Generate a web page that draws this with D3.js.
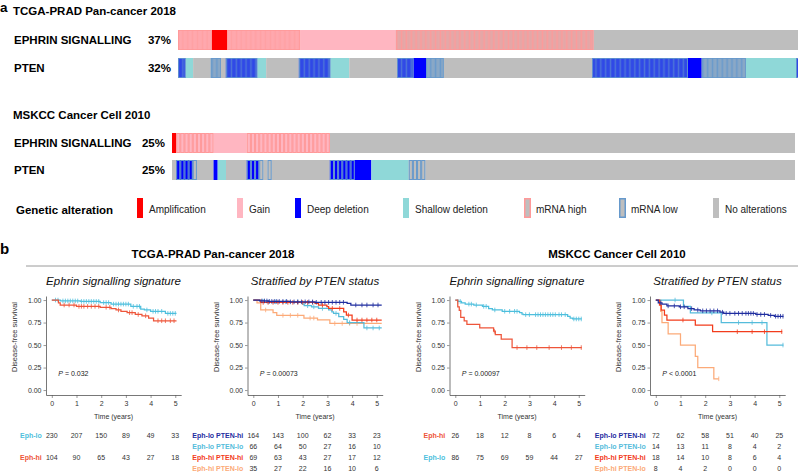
<!DOCTYPE html>
<html><head><meta charset="utf-8">
<script src="https://cdn.jsdelivr.net/npm/d3@7"></script>
<style>
body{margin:0;background:#fff}
svg{display:block;font-family:"Liberation Sans",Arial,Helvetica,sans-serif}
</style>
</head><body>
<svg id="c" width="798" height="472"></svg>
<script>
// ================= DATA =================
// Panel a: oncoprint tracks, segments of consecutive samples: [base alteration, mRNA flag, sample count]
const tcgaTitle = "TCGA-PRAD Pan-cancer 2018";
const mskccTitle = "MSKCC Cancer Cell 2010";
const geneLabels = ["EPHRIN SIGNALLING", "PTEN"];
const tcgaPct = ["37%", "32%"];
const mskccPct = ["25%", "25%"];
const tcgaSamples = 494;
const mskccSamples = 150;
const tcgaEphrin = [["gain","hi",27],["amp",null,12],["gain","hi",58],["gain",null,76],["none","hi",157],["none",null,164]];
const tcgaPten = [["deep","lo",6],["shallow",null,6],["none",null,14],["none","lo",8],["none",null,4],["deep","lo",25],["shallow",null,7],["none",null,26],["deep","lo",25],["shallow",null,15],["none",null,38],["deep","lo",13],["deep",null,10],["none","lo",14],["none",null,118],["deep","lo",76],["deep",null,11],["none","lo",35],["shallow",null,40],["deep","lo",3]];
const mskccEphrin = [["amp",null,1],["gain","hi",9],["gain",null,8],["gain","hi",20],["none",null,112]];
const mskccPten = [["none",null,1],["deep","lo",4],["none","lo",1],["none",null,4],["deep",null,1],["shallow",null,2],["none",null,5],["deep","lo",3],["none","lo",1],["none",null,1],["none","lo",1],["none",null,14],["deep","lo",6],["deep",null,4],["shallow",null,9],["none","lo",4],["none",null,89]];
const legendTitle = "Genetic alteration";
const legendLabels = ["Amplification","Gain","Deep deletion","Shallow deletion","mRNA high","mRNA low","No alterations"];
const legendKeys = [["amp",null],["gain",null],["deep",null],["shallow",null],["none","hi"],["none","lo"],["none",null]];

// Panel b: Kaplan-Meier curves [time (years), survival]
const timeTicks = [0,1,2,3,4,5];
const survTicks = [0,0.25,0.5,0.75,1];
// TCGA – Ephrin signalling signature
const t1LoSurv = [[0,1],[0.35,0.99],[1.15,0.985],[1.96,0.972],[2.4,0.955],[3.2,0.93],[3.6,0.9],[3.75,0.89],[4.0,0.875],[4.6,0.852]];
const t1LoCens = [0.15,0.25,0.45,0.55,0.65,0.75,0.85,0.95,1.05,1.2,1.3,1.4,1.5,1.6,1.7,1.8,1.9,2.1,2.2,2.3,2.5,2.6,2.7,2.8,2.9,3.0,3.1,3.3,3.45,3.55,3.85,4.1,4.2,4.3,4.45,4.7,4.8,4.9,5.0];
const t1HiSurv = [[0,1],[0.27,0.97],[0.34,0.945],[1.0,0.93],[1.96,0.92],[2.4,0.905],[2.6,0.89],[2.8,0.875],[3.05,0.86],[3.38,0.84],[3.65,0.825],[3.92,0.8],[4.12,0.77]];
const t1HiCens = [0.5,0.7,0.9,1.1,1.2,1.3,1.45,1.6,1.75,1.9,2.2,2.35,2.7,3.15,3.25,3.5,3.8,4.3,4.45,4.6,4.8,4.95];
// TCGA – stratified by PTEN
const t2LoHiSurv = [[0,1],[0.25,0.99],[0.6,0.985],[1.5,0.98],[2.5,0.975],[3.8,0.963],[3.95,0.945]];
const t2LoHiCens = [0.35,0.45,0.55,0.65,0.75,0.85,0.95,1.05,1.2,1.35,1.5,1.65,1.8,1.95,2.1,2.25,2.4,2.55,2.75,2.9,3.05,3.2,3.35,3.5,3.65,4.15,4.4,4.6,4.85,5.05];
const t2LoLoSurv = [[0,1],[0.45,0.98],[2.0,0.956],[2.06,0.937],[2.36,0.925],[2.64,0.907],[3.05,0.89],[3.18,0.87],[3.25,0.852],[3.46,0.815],[3.66,0.785],[3.8,0.75],[4.48,0.69]];
const t2LoLoCens = [0.6,0.9,1.3,1.8,2.2,2.45,2.8,3.35,3.9,4.6,4.85,5.1];
const t2HiHiSurv = [[0,1],[0.3,0.974],[2.5,0.963],[2.64,0.944],[2.98,0.926],[3.05,0.907],[3.66,0.87],[3.77,0.833],[4.0,0.778]];
const t2HiHiCens = [0.4,0.6,0.8,1.0,1.2,1.4,1.6,1.8,2.0,2.2,2.4,2.8,3.2,3.5,3.85,4.2,4.4,4.6,4.8,5.0];
const t2HiLoSurv = [[0,1],[0.15,0.97],[0.3,0.89],[0.8,0.86],[0.95,0.83],[2.05,0.8],[2.6,0.78],[3.1,0.74]];
const t2HiLoCens = [0.5,1.2,1.5,1.8,2.3,2.45,3.3,3.6,3.9,4.2];
// MSKCC – Ephrin signalling signature
const m1HiSurv = [[0,1],[0.1,0.923],[0.16,0.885],[0.22,0.808],[0.36,0.769],[0.47,0.731],[0.99,0.692],[1.55,0.654],[1.62,0.615],[1.86,0.567],[2.3,0.472]];
const m1HiCens = [1.58,2.5,2.9,3.3,3.8,4.3,4.7,5.1];
const m1LoSurv = [[0,1],[0.1,0.985],[0.25,0.97],[0.4,0.955],[0.75,0.945],[1.1,0.93],[1.35,0.905],[1.5,0.89],[1.9,0.875],[2.6,0.86],[2.7,0.845],[2.75,0.838],[4.55,0.82],[4.65,0.8],[4.75,0.79]];
const m1LoCens = [0.1,0.2,0.55,0.65,0.85,1.15,1.25,1.6,2.0,2.2,2.4,2.5,2.85,3.0,3.25,3.35,3.45,3.55,3.65,3.75,3.85,3.95,4.05,4.2,4.3,4.45,4.8,4.9,5.0,5.1];
// MSKCC – stratified by PTEN
const m2LoHiSurv = [[0,1],[0.1,0.97],[0.25,0.955],[0.45,0.935],[0.95,0.925],[1.3,0.905],[1.55,0.89],[1.8,0.88],[2.6,0.865],[2.75,0.852],[4.05,0.84],[4.55,0.83],[4.8,0.82]];
const m2LoHiCens = [0.2,0.5,0.75,1.0,1.15,1.45,1.7,1.9,2.05,2.2,2.35,2.5,2.7,2.85,3.0,3.2,3.35,3.5,3.65,3.75,3.85,3.95,4.1,4.25,4.4,4.65,4.85,4.95,5.05,5.15];
const m2LoLoSurv = [[0,1],[1.12,0.929],[1.4,0.857],[2.65,0.75],[4.5,0.5]];
const m2LoLoCens = [0.78,2.27,3.35,3.9,4.3,5.15];
const m2HiHiSurv = [[0,1],[0.15,0.944],[0.22,0.889],[0.35,0.833],[0.45,0.778],[1.6,0.722],[2.3,0.648]];
const m2HiHiCens = [1.1,3.3,3.9,4.4,5.1];
const m2HiLoSurv = [[0,1],[0.2,0.875],[0.25,0.75],[0.5,0.625],[1.0,0.5],[1.6,0.375],[1.7,0.25],[2.35,0.125]];
const m2HiLoCens = [2.55];

// Numbers at risk
const t1LoRisk = [230,207,150,89,49,33];
const t1HiRisk = [104,90,65,43,27,18];
const t2LoHiRisk = [164,143,100,62,33,23];
const t2LoLoRisk = [66,64,50,27,16,10];
const t2HiHiRisk = [69,63,43,27,17,12];
const t2HiLoRisk = [35,27,22,16,10,6];
const m1HiRisk = [26,18,12,8,6,4];
const m1LoRisk = [86,75,69,59,44,27];
const m2LoHiRisk = [72,62,58,51,40,25];
const m2LoLoRisk = [14,13,11,8,4,2];
const m2HiHiRisk = [18,14,10,8,6,4];
const m2HiLoRisk = [8,4,2,0,0,0];

const pValues = ["0.032","0.00073","0.00097","0.0001"];
const pOps = ["=","=","=","<"];

// ================= DRAW =================
const svg = d3.select("#c");
const fillColor = {amp:"#FF0000", gain:"#FFB6C1", deep:"#0000FF", shallow:"#8FD8D8", none:"#BEBEBE"};
const mrnaColor = {hi:"#FF9999", lo:"#6699CC"};

// panel letters
svg.append("text").attr("x",0).attr("y",12).attr("font-size",13.5).attr("font-weight","bold").text("a");
svg.append("text").attr("x",0).attr("y",254).attr("font-size",15).attr("font-weight","bold").text("b");

function drawTrack(segs, n, x0, x1, y, h) {
  const xs = d3.scaleLinear().domain([0, n]).range([x0, x1]);
  const cw = xs(1) - xs(0);
  const g = svg.append("g");
  let i0 = 0;
  const cells = segs.map(([base, mrna, k]) => { const c = {base, mrna, start:i0, n:k}; i0 += k; return c; });
  g.selectAll("rect.base").data(cells).join("rect").attr("class","base")
    .attr("x", d => xs(d.start)).attr("width", d => xs(d.start + d.n) - xs(d.start))
    .attr("y", y).attr("height", h).attr("fill", d => fillColor[d.base]);
  const pts = [];
  cells.forEach(c => { if (c.mrna) for (let k = 0; k < c.n; k++) pts.push({i:c.start + k, m:c.mrna, b:c.base}); });
  if (cw > 2) {
    g.selectAll("rect.o").data(pts).join("rect").attr("class","o")
      .attr("x", d => xs(d.i) + 0.5).attr("width", cw - 1)
      .attr("y", y + 0.5).attr("height", h - 1)
      .attr("fill","none").attr("stroke", d => mrnaColor[d.m]).attr("stroke-width", 1);
  } else {
    g.selectAll("line.o").data(pts).join("line").attr("class","o")
      .attr("x1", d => xs(d.i) + cw/2).attr("x2", d => xs(d.i) + cw/2)
      .attr("y1", y).attr("y2", y + h)
      .attr("stroke", d => mrnaColor[d.m]).attr("stroke-width", d => d.b === "none" ? 0.95 : 0.75);
    const mc = cells.filter(c => c.mrna);
    g.selectAll("rect.so").data(mc).join("rect").attr("class","so")
      .attr("x", d => xs(d.start) + 0.4).attr("width", d => xs(d.start + d.n) - xs(d.start) - 0.8)
      .attr("y", y + 0.4).attr("height", h - 0.8)
      .attr("fill","none").attr("stroke", d => mrnaColor[d.mrna]).attr("stroke-width", 0.8);
  }
}

function studyBlock(title, titleY, pcts, tracks, n, x0, x1, ys, pctX) {
  svg.append("text").attr("x",13).attr("y",titleY).attr("font-size",11.5).attr("font-weight","bold").text(title);
  geneLabels.forEach((lab, i) => {
    svg.append("text").attr("x",14).attr("y",ys[i] + 14).attr("font-size",11.5).attr("font-weight","bold").text(lab);
    svg.append("text").attr("x",pctX).attr("y",ys[i] + 14).attr("text-anchor","end").attr("font-size",11.5).attr("font-weight","bold").text(pcts[i]);
    drawTrack(tracks[i], n, x0, x1, ys[i], 20);
  });
}
studyBlock(tcgaTitle, 15, tcgaPct, [tcgaEphrin, tcgaPten], tcgaSamples, 178, 800, [30, 58], 171);
studyBlock(mskccTitle, 119, mskccPct, [mskccEphrin, mskccPten], mskccSamples, 172, 795, [133, 160], 165);

// legend
svg.append("text").attr("x",16).attr("y",214).attr("font-size",11.5).attr("font-weight","bold").text(legendTitle);
const legendX = [137, 237, 295, 403, 524, 619, 713];
legendLabels.forEach((lab, i) => {
  const [b, m] = legendKeys[i];
  const r = svg.append("rect").attr("x", legendX[i]).attr("y", 198).attr("width", 6).attr("height", 20).attr("fill", fillColor[b]);
  if (m) r.attr("x", legendX[i] + 0.75).attr("y", 198.75).attr("height", 18.5).attr("width", 5.5).attr("stroke", mrnaColor[m]).attr("stroke-width", 1.5);
  svg.append("text").attr("x", legendX[i] + 12).attr("y", 213).attr("font-size", 10).attr("fill","#222").text(lab);
});

// ---------- panel b ----------
svg.append("text").attr("x",213).attr("y",258).attr("text-anchor","middle").attr("font-size",11.5).attr("font-weight","bold").text(tcgaTitle);
svg.append("text").attr("x",617).attr("y",258).attr("text-anchor","middle").attr("font-size",11.5).attr("font-weight","bold").text(mskccTitle);
svg.append("line").attr("x1",26).attr("x2",798).attr("y1",266).attr("y2",266).attr("stroke","#9a9a9a").attr("stroke-width",1);

const cLo = "#4EBFDD", cHi = "#EE553A";
const cLoHi = "#1F2D9F", cLoLo = "#55BCDB", cHiHi = "#F23C1C", cHiLo = "#FCAA78";

const panels = [
  {ox:46, sub:"Ephrin signalling signature",
   curves:[{s:t1LoSurv,c:t1LoCens,end:5.05,col:cLo},{s:t1HiSurv,c:t1HiCens,end:5.05,col:cHi}],
   risk:[{lab:"Eph-lo",col:cLo,v:t1LoRisk,row:0},{lab:"Eph-hi",col:cHi,v:t1HiRisk,row:2}]},
  {ox:247.5, sub:"Stratified by PTEN status",
   curves:[{s:t2HiLoSurv,c:t2HiLoCens,end:5.2,col:cHiLo},{s:t2LoLoSurv,c:t2LoLoCens,end:5.2,col:cLoLo},{s:t2HiHiSurv,c:t2HiHiCens,end:5.2,col:cHiHi},{s:t2LoHiSurv,c:t2LoHiCens,end:5.2,col:cLoHi}],
   risk:[{lab:"Eph-lo PTEN-hi",col:cLoHi,v:t2LoHiRisk,row:0},{lab:"Eph-lo PTEN-lo",col:cLoLo,v:t2LoLoRisk,row:1},{lab:"Eph-hi PTEN-hi",col:cHiHi,v:t2HiHiRisk,row:2},{lab:"Eph-hi PTEN-lo",col:cHiLo,v:t2HiLoRisk,row:3}]},
  {ox:449.5, sub:"Ephrin signalling signature",
   curves:[{s:m1LoSurv,c:m1LoCens,end:5.12,col:cLo},{s:m1HiSurv,c:m1HiCens,end:5.12,col:cHi}],
   risk:[{lab:"Eph-hi",col:cHi,v:m1HiRisk,row:0},{lab:"Eph-lo",col:cLo,v:m1LoRisk,row:2}]},
  {ox:650, sub:"Stratified by PTEN status",
   curves:[{s:m2HiLoSurv,c:m2HiLoCens,end:2.55,col:cHiLo},{s:m2LoLoSurv,c:m2LoLoCens,end:5.17,col:cLoLo},{s:m2HiHiSurv,c:m2HiHiCens,end:5.12,col:cHiHi},{s:m2LoHiSurv,c:m2LoHiCens,end:5.17,col:cLoHi}],
   risk:[{lab:"Eph-lo PTEN-hi",col:cLoHi,v:m2LoHiRisk,row:0},{lab:"Eph-lo PTEN-lo",col:cLoLo,v:m2LoLoRisk,row:1},{lab:"Eph-hi PTEN-hi",col:cHiHi,v:m2HiHiRisk,row:2},{lab:"Eph-hi PTEN-lo",col:cHiLo,v:m2HiLoRisk,row:3}]}
];

function stepAt(pts, t) { let s = pts[0][1]; for (const p of pts) if (p[0] <= t) s = p[1]; return s; }

panels.forEach((P, pi) => {
  const xs = d3.scaleLinear().domain([-0.235, 5.24]).range([P.ox, P.ox + 135.2]);
  const ys = d3.scaleLinear().domain([-0.055, 1.045]).range([395, 296]);
  const g = svg.append("g");
  const cx = xs(2.5);
  g.append("text").attr("x", cx).attr("y", 285).attr("text-anchor","middle").attr("font-size",11.5).attr("font-style","italic").attr("fill","#111").text(P.sub);

  const xa = g.append("g").attr("transform", `translate(0,395)`)
    .call(d3.axisBottom(xs).tickValues(timeTicks).tickSize(3).tickSizeOuter(0).tickPadding(3).tickFormat(d3.format("d")));
  const ya = g.append("g").attr("transform", `translate(${P.ox},0)`)
    .call(d3.axisLeft(ys).tickValues(survTicks).tickSize(2.5).tickSizeOuter(0).tickPadding(2).tickFormat(d3.format(".2f")));
  [xa, ya].forEach(a => {
    a.select(".domain").attr("stroke","#555").attr("stroke-width",0.8);
    a.selectAll(".tick line").attr("stroke","#555").attr("stroke-width",0.6);
    a.selectAll(".tick text").attr("font-size",7).attr("fill","#333").attr("font-family","Liberation Sans, Arial, sans-serif");
  });

  g.append("text").attr("transform", `translate(${P.ox - 29},337) rotate(-90)`).attr("text-anchor","middle").attr("font-size",7.5).attr("fill","#333").text("Disease-free survival");
  g.append("text").attr("x", cx).attr("y", 419).attr("text-anchor","middle").attr("font-size",7).attr("fill","#333").text("Time (years)");

  const pt = g.append("text").attr("x", xs(0) + 6.5).attr("y", 376).attr("font-size",7).attr("fill","#222");
  pt.append("tspan").attr("font-style","italic").text("P");
  pt.append("tspan").text(` ${pOps[pi]} ${pValues[pi]}`);

  const line = d3.line().x(d => xs(d[0])).y(d => ys(d[1])).curve(d3.curveStepAfter);
  P.curves.forEach(cv => {
    const pts = cv.s.concat([[cv.end, cv.s[cv.s.length - 1][1]]]);
    g.append("path").attr("d", line(pts)).attr("fill","none").attr("stroke", cv.col).attr("stroke-width",1.25);
    g.selectAll(null).data(cv.c).join("line")
      .attr("x1", d => xs(d)).attr("x2", d => xs(d))
      .attr("y1", d => ys(stepAt(cv.s, d)) - 2.3).attr("y2", d => ys(stepAt(cv.s, d)) + 2.3)
      .attr("stroke", cv.col).attr("stroke-width", 0.8);
  });

  const rowY = [437.5, 448.5, 459.5, 470.5];
  P.risk.forEach(r => {
    g.append("text").attr("x", xs(0) - 10).attr("y", rowY[r.row]).attr("text-anchor","end").attr("font-size",7).attr("font-weight","bold").attr("fill", r.col).text(r.lab);
    g.selectAll(null).data(r.v).join("text")
      .attr("x", (d, i) => xs(timeTicks[i])).attr("y", rowY[r.row]).attr("text-anchor","middle")
      .attr("font-size",7).attr("fill","#333").text(d => d);
  });
});
</script>
</body></html>
